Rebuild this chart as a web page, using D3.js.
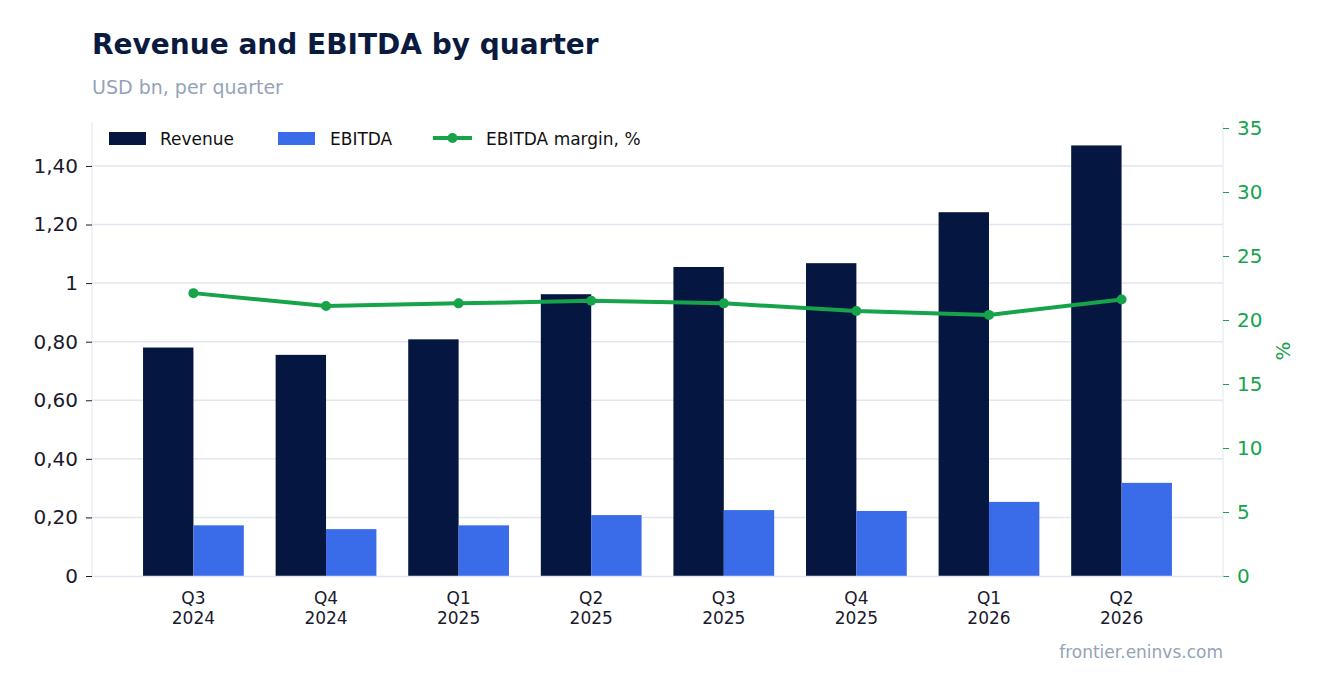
<!DOCTYPE html>
<html><head><meta charset="utf-8">
<script src="https://cdn.jsdelivr.net/npm/d3@7"></script>
<style>body{margin:0;background:#fff;font-family:"DejaVu Sans",sans-serif}</style>
</head><body><div class="chart"></div>
<script>
const quarters = ['Q3|2024','Q4|2024','Q1|2025','Q2|2025','Q3|2025','Q4|2025','Q1|2026','Q2|2026'];
const revenue = [0.78, 0.755, 0.808, 0.962, 1.055, 1.068, 1.242, 1.47];
const ebitda = [0.173, 0.16, 0.173, 0.208, 0.225, 0.222, 0.253, 0.318];
const margin = [22.1, 21.1, 21.3, 21.5, 21.3, 20.7, 20.4, 21.6];
const leftTicks = [0, 0.2, 0.4, 0.6, 0.8, 1, 1.2, 1.4];
const rightTicks = [0, 5, 10, 15, 20, 25, 30, 35];

const W = 1323, H = 693, L = 92, R = 1223, T = 122, B = 576;
const navy = '#051640', blue = '#3a6be8', green = '#16a34a', grid = '#e2e6f0';

const svg = d3.select('.chart').append('svg').attr('width', W).attr('height', H);

svg.append('text').attr('x', 92).attr('y', 54).text('Revenue and EBITDA by quarter')
  .attr('font-size', 28).attr('font-weight', 'bold').attr('fill', '#0b1a3f');
svg.append('text').attr('x', 92).attr('y', 94).text('USD bn, per quarter')
  .attr('font-size', 19).attr('fill', '#94a3b8');

const x = d3.scaleBand().domain(quarters).range([L, R]).paddingInner(0.24).paddingOuter(0.385);
const y = d3.scaleLinear().domain([0, 1.55]).range([B, T]);
const y2 = d3.scaleLinear().domain([0, 35.47]).range([B, T]);

const fmt = d => Number.isInteger(d) ? String(d) : d3.format('.2f')(d).replace('.', ',');

// grid
svg.append('g').selectAll('line').data(leftTicks.slice(1)).enter().append('line')
  .attr('x1', L).attr('x2', R).attr('y1', d => y(d)).attr('y2', d => y(d))
  .attr('stroke', grid).attr('stroke-width', 1.5);

// bars
const bw = x.bandwidth() / 2;
svg.append('g').selectAll('rect').data(revenue).enter().append('rect')
  .attr('x', (d, i) => x(quarters[i])).attr('width', bw)
  .attr('y', d => y(d)).attr('height', d => B - y(d)).attr('fill', navy);
svg.append('g').selectAll('rect').data(ebitda).enter().append('rect')
  .attr('x', (d, i) => x(quarters[i]) + bw).attr('width', bw)
  .attr('y', d => y(d)).attr('height', d => B - y(d)).attr('fill', blue);

// margin line
const cx = i => x(quarters[i]) + x.bandwidth() / 2;
svg.append('path').datum(margin)
  .attr('d', d3.line().x((d, i) => cx(i)).y(d => y2(d)))
  .attr('fill', 'none').attr('stroke', green).attr('stroke-width', 4);
svg.append('g').selectAll('circle').data(margin).enter().append('circle')
  .attr('cx', (d, i) => cx(i)).attr('cy', d => y2(d)).attr('r', 5).attr('fill', green);

// axes
const ax = svg.append('g').attr('transform', `translate(${L},0)`)
  .call(d3.axisLeft(y).tickValues(leftTicks).tickFormat(fmt).tickSize(6).tickPadding(8));
ax.select('.domain').attr('stroke', grid).attr('d', `M0,${T}V${B}`);
ax.selectAll('text').attr('font-size', 20).attr('fill', '#1a1a2e').attr('font-family', 'DejaVu Sans');
ax.selectAll('.tick line').attr('stroke', '#1a1a2e');

const ar = svg.append('g').attr('transform', `translate(${R},0)`)
  .call(d3.axisRight(y2).tickValues(rightTicks).tickSize(6).tickPadding(8));
ar.select('.domain').attr('stroke', grid).attr('d', `M0,${T}V${B}`);
ar.selectAll('text').attr('font-size', 20).attr('fill', green).attr('font-family', 'DejaVu Sans');
ar.selectAll('.tick line').attr('stroke', green);
svg.append('text').attr('transform', `translate(1290,351) rotate(-90)`).attr('text-anchor', 'middle')
  .text('%').attr('font-size', 20).attr('fill', green);

const axb = svg.append('g').attr('transform', `translate(0,${B})`)
  .call(d3.axisBottom(x).tickSize(0).tickPadding(14).tickFormat(''));
axb.select('.domain').attr('stroke', grid).attr('stroke-width', 1.5);
axb.selectAll('.tick').each(function(d) {
  const t = d3.select(this).append('text').attr('fill', '#1a1a2e').attr('font-size', 17)
    .attr('text-anchor', 'middle').attr('font-family', 'DejaVu Sans');
  d.split('|').forEach((s, k) => t.append('tspan').attr('x', 0).attr('y', 28 + k * 20).text(s));
});

// legend
const lg = svg.append('g').attr('font-size', 17).attr('fill', '#111');
lg.append('rect').attr('x', 109).attr('y', 132).attr('width', 37).attr('height', 13).attr('fill', navy);
lg.append('text').attr('x', 160).attr('y', 145).text('Revenue');
lg.append('rect').attr('x', 278).attr('y', 132).attr('width', 37).attr('height', 13).attr('fill', blue);
lg.append('text').attr('x', 330).attr('y', 145).text('EBITDA');
lg.append('line').attr('x1', 433).attr('x2', 472).attr('y1', 138).attr('y2', 138).attr('stroke', green).attr('stroke-width', 4);
lg.append('circle').attr('cx', 452.5).attr('cy', 138).attr('r', 5).attr('fill', green);
lg.append('text').attr('x', 486).attr('y', 145).text('EBITDA margin, %');

svg.append('text').attr('x', R).attr('y', 658).attr('text-anchor', 'end')
  .text('frontier.eninvs.com').attr('font-size', 17).attr('fill', '#94a3b8');
</script></body></html>
